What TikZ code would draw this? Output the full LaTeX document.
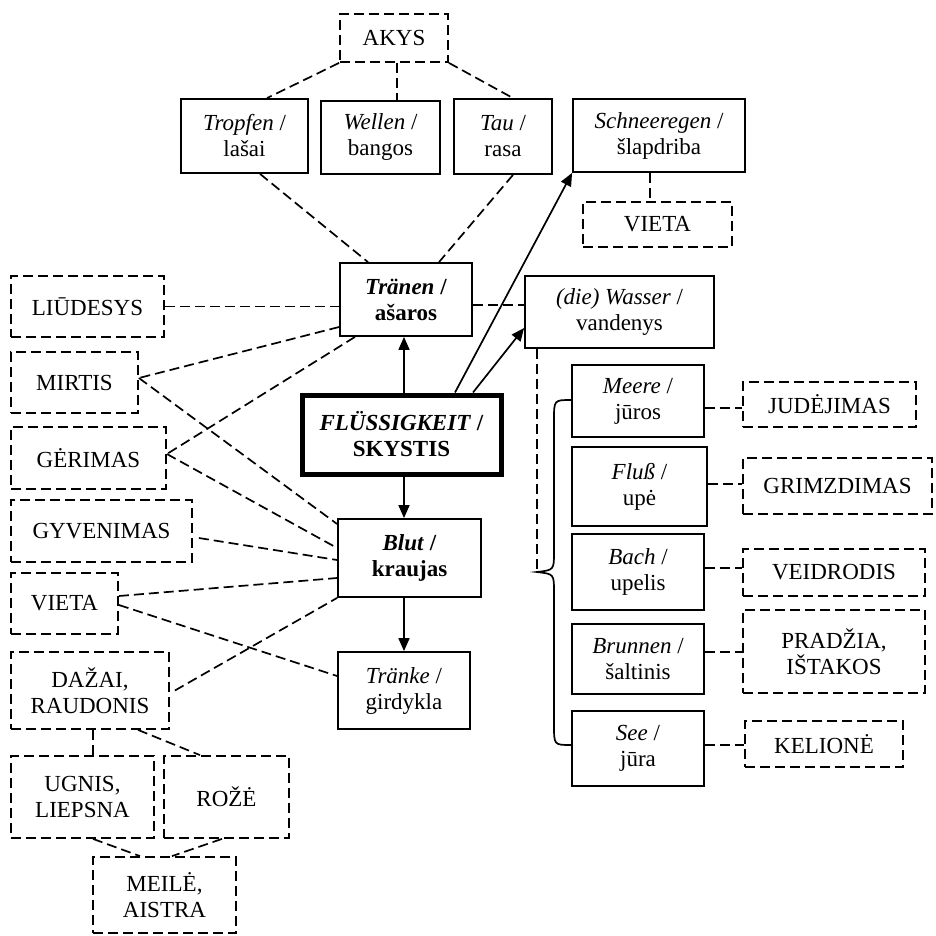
\documentclass[tikz,border=0pt]{standalone}
\usepackage{fontspec}
\setmainfont{Liberation Serif}
\usetikzlibrary{arrows.meta}
\newcommand{\BoxNode}[7]{%
  \node[#6, minimum width={(#4-#2)*1pt}, minimum height={(#5-#3)*1pt}] (#1) at ({(#2+#4)/2},{(#3+#5)/2}) {#7};}
\begin{document}
\begin{tikzpicture}[x=1pt,y=-1pt,
  solidbox/.style={draw, line width=1.8pt, inner sep=0pt, align=center, font=\fontsize{23}{26}\selectfont},
  dashbox/.style={solidbox, dash pattern=on 10pt off 5pt},
  link/.style={line width=1.7pt, dash pattern=on 10pt off 5pt},
  arr/.style={line width=1.7pt, -{Triangle[length=13pt,width=11pt]}}]
\useasboundingbox (0,0) rectangle (935,936);

\BoxNode{akys}{340}{14}{448}{62}{dashbox}{AKYS}
\BoxNode{tropfen}{181}{99}{308}{173}{solidbox}{\textit{Tropfen} /\\lašai}
\BoxNode{wellen}{321}{101}{440}{174}{solidbox}{\textit{Wellen} /\\bangos}
\BoxNode{tau}{454}{99}{552}{174}{solidbox}{\textit{Tau} /\\rasa}
\BoxNode{schnee}{573}{99}{745}{172}{solidbox}{\textit{Schneeregen} /\\šlapdriba}
\BoxNode{vietaA}{583}{202}{732}{247}{dashbox}{VIETA}
\BoxNode{tranen}{340}{263}{472}{336}{solidbox}{\textbf{\textit{Tränen} /}\\\textbf{ašaros}}
\BoxNode{wasser}{525}{276}{714}{348}{solidbox}{\textit{(die) Wasser} /\\vandenys}
\BoxNode{liudesys}{11}{276}{164}{337}{dashbox}{LIŪDESYS}
\BoxNode{mirtis}{11}{352}{138}{413}{dashbox}{MIRTIS}
\BoxNode{gerimas}{11}{427}{166}{489}{dashbox}{GĖRIMAS}
\BoxNode{gyv}{11}{500}{192}{562}{dashbox}{GYVENIMAS}
\BoxNode{vietaB}{11}{573}{118}{634}{dashbox}{VIETA}
\BoxNode{dazai}{11}{652}{169}{729}{dashbox}{DAŽAI,\\RAUDONIS}
\BoxNode{ugnis}{11}{756}{154}{838}{dashbox}{UGNIS,\\LIEPSNA}
\BoxNode{roze}{164}{756}{289}{838}{dashbox}{ROŽĖ}
\BoxNode{meile}{93}{857}{236}{933}{dashbox}{MEILĖ,\\AISTRA}
\BoxNode{flu}{302}{395}{501}{474}{solidbox, line width=5pt}{\textbf{\textit{FLÜSSIGKEIT} /}\\\textbf{SKYSTIS}}
\BoxNode{blut}{338}{519}{481}{597}{solidbox}{\textbf{\textit{Blut} /}\\\textbf{kraujas}}
\BoxNode{tranke}{338}{652}{470}{729}{solidbox}{\textit{Tränke} /\\girdykla}
\BoxNode{meere}{572}{365}{704}{437}{solidbox}{\textit{Meere} /\\jūros}
\BoxNode{fluss}{572}{447}{707}{526}{solidbox}{\textit{Fluß} /\\upė}
\BoxNode{bach}{572}{534}{704}{610}{solidbox}{\textit{Bach} /\\upelis}
\BoxNode{brunnen}{572}{624}{704}{694}{solidbox}{\textit{Brunnen} /\\šaltinis}
\BoxNode{see}{572}{711}{704}{786}{solidbox}{\textit{See} /\\jūra}
\BoxNode{jud}{743}{382}{916}{427}{dashbox}{JUDĖJIMAS}
\BoxNode{grim}{743}{458}{932}{514}{dashbox}{GRIMZDIMAS}
\BoxNode{veid}{743}{549}{925}{596}{dashbox}{VEIDRODIS}
\BoxNode{prad}{743}{610}{925}{693}{dashbox}{PRADŽIA,\\IŠTAKOS}
\BoxNode{kel}{745}{721}{903}{767}{dashbox}{KELIONĖ}

% top links
\draw[link] (akys.south west) -- ([xshift=22.5pt]tropfen.north);
\draw[link] ([xshift=3pt]akys.south) -- ([xshift=3pt]akys.south |- wellen.north);
\draw[link] (akys.south east) -- ([xshift=10pt]tau.north);
\draw[link] ([xshift=15.5pt]tropfen.south) -- ([xshift=-38pt]tranen.north);
\draw[link] ([xshift=10pt]tau.south) -- ([xshift=33pt]tranen.north);
\draw[link] ([xshift=-9pt]schnee.south) -- ([xshift=-9pt]schnee.south |- vietaA.north);
\draw[link] ([yshift=-5.5pt]tranen.east) -- ([yshift=-5.5pt]tranen.east -| wasser.west);
\draw[link] (liudesys.east) -- (liudesys.east -| tranen.west);

% left links
\draw[link] ([yshift=-27.5pt]tranen.west) -- ([yshift=4.5pt]mirtis.east);
\draw[link] ([xshift=-51pt]tranen.south) -- ([yshift=4pt]gerimas.east);
\draw[link] ([yshift=4.5pt]mirtis.east) -- ([yshift=34pt]blut.west);
\draw[link] ([yshift=4pt]gerimas.east) -- ([yshift=10pt]blut.west);
\draw[link] ([xshift=6pt,yshift=-7pt]gyv.east) -- ([yshift=-2pt]blut.west);
\draw[link] ([yshift=7.5pt]vietaB.east) -- ([yshift=-20pt]blut.west);
\draw[link] ([yshift=-1.5pt]vietaB.east) -- ([yshift=14.5pt]tranke.west);
\draw[link] ([xshift=5pt]dazai.east) -- (blut.south west);
\draw[link] ([xshift=3pt]dazai.south) -- ([xshift=3pt]dazai.south |- ugnis.north);
\draw[link] ([xshift=48pt]dazai.south) -- ([xshift=-26.5pt]roze.north);
\draw[link] ([xshift=10.5pt]ugnis.south) -- ([xshift=-24.5pt]meile.north);
\draw[link] ([xshift=-4.5pt]roze.south) -- ([xshift=7.5pt]meile.north);

% arrows
\draw[arr] ([xshift=2.5pt]flu.north) -- ([xshift=2.5pt]flu.north |- tranen.south);
\draw[arr] ([xshift=2.5pt]flu.south) -- ([xshift=2.5pt]flu.south |- blut.north);
\draw[arr] ([xshift=2.5pt]flu.south |- blut.south) -- ([xshift=2.5pt]flu.south |- tranke.north);
\draw[arr] ([xshift=53.5pt]flu.north) -- (schnee.south west);
\draw[arr] ([xshift=71.5pt]flu.north) -- ([yshift=-16pt]wasser.west);

% brace
\coordinate (tip) at (537,572);
\draw[link] ([xshift=-82.5pt]wasser.south) -- (tip);
\draw[line width=1.7pt] ([yshift=1pt]meere.west) .. controls (554,400) .. (554,420) -- (554,552)
  .. controls (554,570) .. (tip) .. controls (554,574) .. (554,592) -- (554,725)
  .. controls (554,745) .. ([yshift=3.5pt]see.west);

% right links
\draw[link] ([yshift=-7pt]meere.east) -- ([yshift=-7pt]meere.east -| jud.west);
\draw[link] ([yshift=2.5pt]fluss.east) -- ([yshift=2.5pt]fluss.east -| grim.west);
\draw[link] ([yshift=4pt]bach.east) -- ([yshift=4pt]bach.east -| veid.west);
\draw[link] ([yshift=7pt]brunnen.east) -- ([yshift=7pt]brunnen.east -| prad.west);
\draw[link] ([yshift=3.5pt]see.east) -- ([yshift=3.5pt]see.east -| kel.west);
\end{tikzpicture}
\end{document}
